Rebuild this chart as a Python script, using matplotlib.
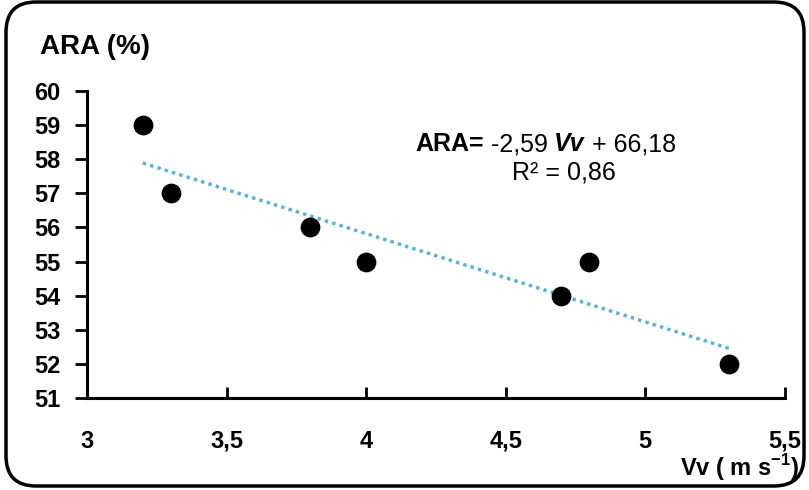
import numpy as np
import matplotlib
matplotlib.use("Agg")
import matplotlib.pyplot as plt
from matplotlib.patches import FancyBboxPatch
from matplotlib.transforms import IdentityTransform

# data
vv = [3.2, 3.3, 3.8, 4.0, 4.7, 4.8, 5.3]
ara = [59, 57, 56, 55, 54, 55, 52]
slope, intercept = -2.59, 66.18
xticks = [3, 3.5, 4, 4.5, 5, 5.5]
xlabels = ["3", "3,5", "4", "4,5", "5", "5,5"]
yticks = list(range(51, 61))

plain = ["Liberation Sans", "DejaVu Sans"]
plt.rcParams['font.family'] = plain
plt.rcParams['mathtext.fontset'] = 'custom'
plt.rcParams['mathtext.bf'] = 'Liberation Sans:bold'
plt.rcParams['mathtext.rm'] = 'Liberation Sans'

fig = plt.figure(figsize=(8.09, 4.9), dpi=100)
ax = fig.add_axes([0.1075, 0.188, 0.8625, 0.626])

# trend line
xl = np.array([vv[0], vv[-1]])
ax.plot(xl, slope * xl + intercept, linestyle=(0, (1, 1.2)), color="#5ab4d8",
        linewidth=2.5, zorder=2)
ax.scatter(vv, ara, s=175, color="black", zorder=3)

ax.set_xlim(3, 5.5)
ax.set_ylim(51, 60)
ax.set_xticks(xticks)
ax.set_xticklabels(xlabels)
ax.set_yticks(yticks)

for s in ["top", "right"]:
    ax.spines[s].set_visible(False)
for s in ["left", "bottom"]:
    ax.spines[s].set_linewidth(2.2)

ax.tick_params(axis="x", direction="in", length=8, width=2, pad=23,
               labelsize=17)
ax.tick_params(axis="y", direction="out", length=9, width=2, pad=10,
               labelsize=17)
for lab in ax.get_xticklabels() + ax.get_yticklabels():
    lab.set_fontweight("bold")

fig.text(0.049, 0.905, "ARA (%)", fontsize=20, fontweight="bold",
         ha="left", va="center")
fig.text(0.988, 0.045, r"Vv ( m s$^{\mathbf{-1}}$)", fontsize=17,
         fontweight="bold", ha="right", va="center")

# equation text, pieces laid side by side
eq_y = 0.706
parts = [("ARA=", "bold", "normal"), (" -2,59 ", "normal", "normal"),
         ("Vv", "bold", "italic"), (" + 66,18", "normal", "normal")]
fig.canvas.draw()
renderer = fig.canvas.get_renderer()
x0 = 0.513
for txt, w, st in parts:
    t = fig.text(x0, eq_y, txt, fontsize=18, fontweight=w, fontstyle=st,
                 ha="left", va="center")
    bb = t.get_window_extent(renderer=renderer)
    x0 += bb.width / fig.bbox.width
fig.text(0.697, 0.648, "R² = 0,86", fontsize=18, ha="center", va="center")

# rounded frame
frame = FancyBboxPatch((36, 34), 738, 424,
                       boxstyle="round,pad=30,rounding_size=30",
                       transform=IdentityTransform(), fill=False,
                       edgecolor="black", linewidth=2.5)
fig.patches.append(frame)

fig.savefig("out.png", dpi=100)
